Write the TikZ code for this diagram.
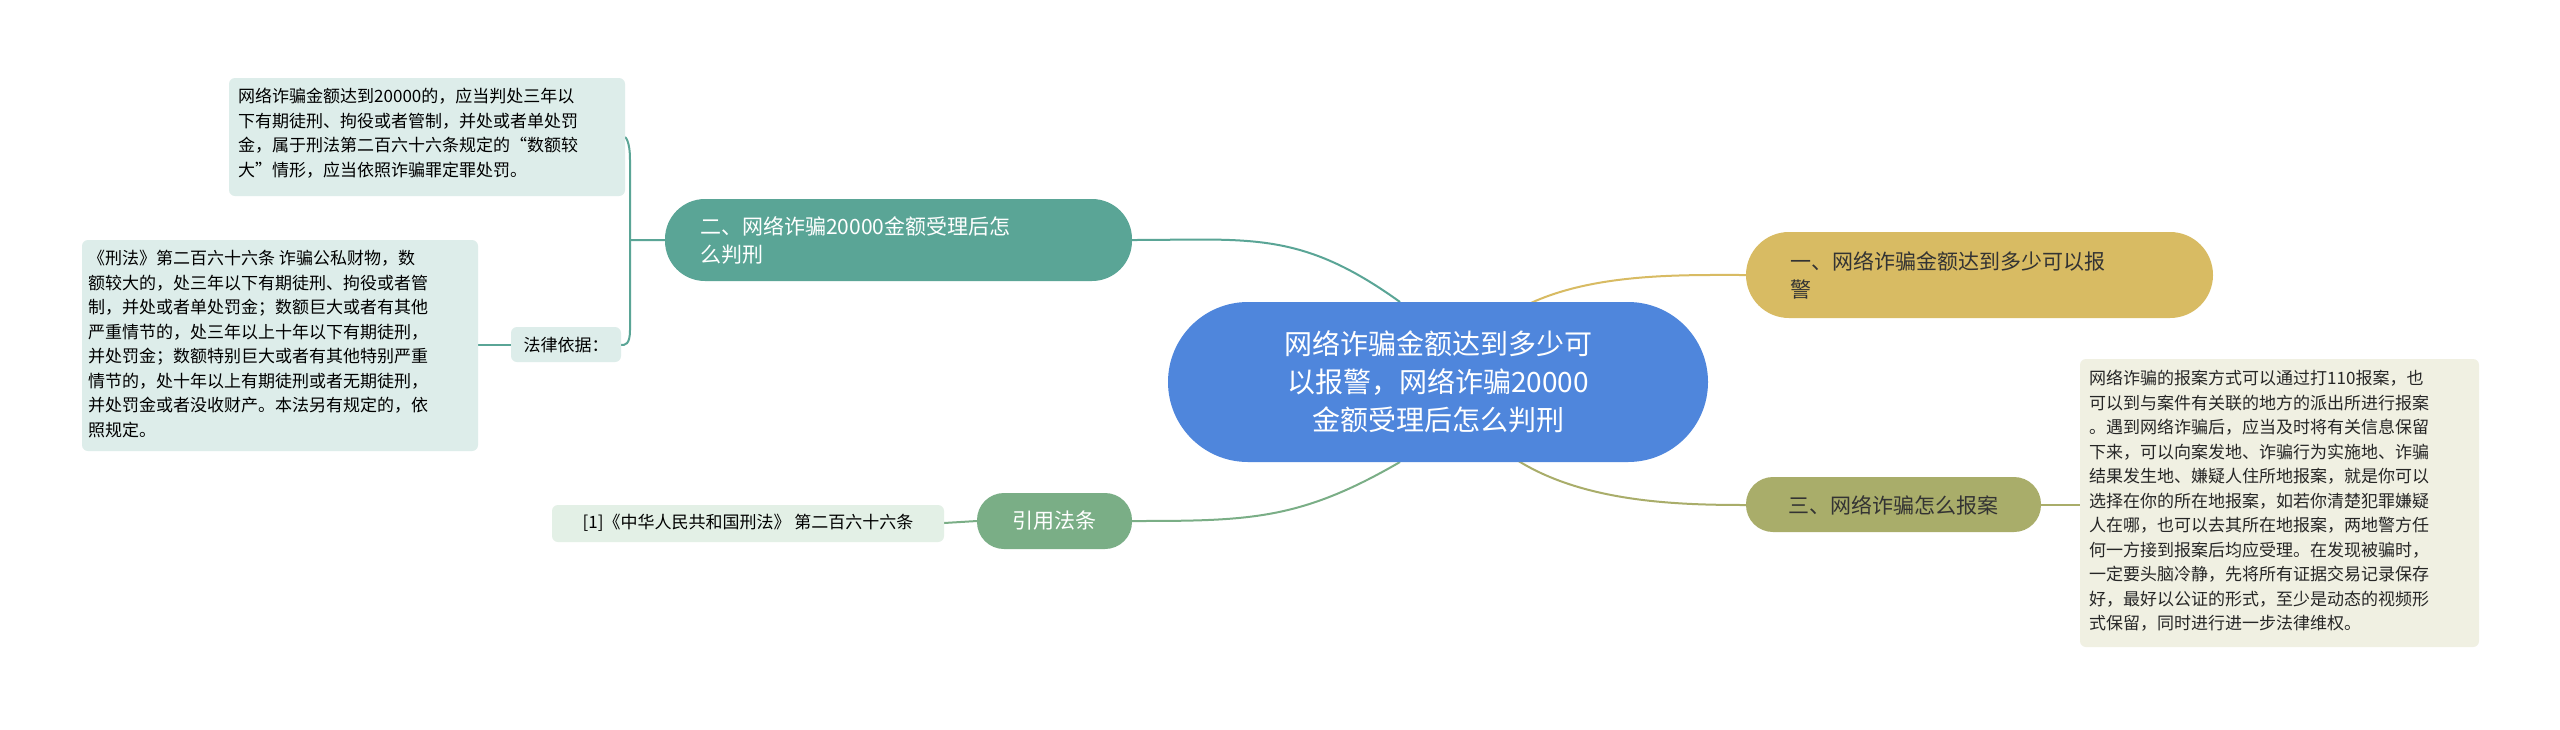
\documentclass[tikz,border=0pt]{standalone}
\usepackage{fontspec}
\setmainfont{Noto Sans CJK SC}
\begin{document}
\begin{tikzpicture}[x=1pt,y=-1pt,
 leaf/.style={rounded corners=6pt,inner sep=0pt,align=left,font=\fontsize{17}{24.5}\selectfont},
 br/.style={rounded corners=26pt,inner sep=0pt,font=\fontsize{21}{28}\selectfont,align=left},
 con/.style={line width=2pt}]
\useasboundingbox (0,0) rectangle (2560,729);
\fill[white] (0,0) rectangle (2560,729);
% center
\node[fill=blue!35!cyan!30!black!0,draw=none] at (0,0) {};
\definecolor{cblue}{HTML}{4F86DC}
\definecolor{teal2}{HTML}{5AA596}
\definecolor{gold}{HTML}{D8BB63}
\definecolor{olive2}{HTML}{A9AD6A}
\definecolor{green2}{HTML}{7AAE86}
\definecolor{lteal}{HTML}{DDEDEA}
\definecolor{lolive}{HTML}{F0F0E2}
\definecolor{lgreen}{HTML}{E3F0E6}
% connectors first
\draw[con,teal2] (1400,302) .. controls (1300,230) and (1250,240) .. (1132,240);
\draw[con,gold] (1450,382) .. controls (1500,270) and (1650,275) .. (1746,275);
\draw[con,olive2] (1450,382) .. controls (1500,500) and (1650,505) .. (1746,505);
\draw[con,green2] (1400,462) .. controls (1300,520) and (1250,521) .. (1132,521);
\draw[con,green2] (977,521) -- (944,523);
\draw[con,teal2] (665,240) .. controls (640,240) and (640,240) .. (630,240) -- (630,160) .. controls (630,140) and (625,137) .. (625,137);
\draw[con,teal2] (630,240) -- (630,330) .. controls (630,345) and (625,345) .. (621,345);
\draw[con,teal2] (511,345) -- (478,345);
\fill[cblue, rounded corners=80pt] (1168,302) rectangle (1708,462);
\node[text=white,align=center,font=\fontsize{28}{38}\selectfont] (c) at (1438,382) {网络诈骗金额达到多少可\\以报警，网络诈骗20000\\金额受理后怎么判刑};
\fill[teal2,rounded corners=40pt] (665,199) rectangle (1132,281);
\node[text=white,br,anchor=west] (b2) at (700,240) {二、网络诈骗20000金额受理后怎\\么判刑};
\fill[gold,rounded corners=43pt] (1746,232) rectangle (2213,318);
\node[text=black!80,br,anchor=west] (b1) at (1790,275) {一、网络诈骗金额达到多少可以报\\警};
\fill[olive2,rounded corners=27pt] (1746,477) rectangle (2041,532);
\node[text=black!80,br] (b3) at (1893,505) {三、网络诈骗怎么报案};
\fill[green2,rounded corners=27pt] (977,493) rectangle (1132,549);
\node[text=white,br] (b4) at (1054,521) {引用法条};
% leaves
\fill[lteal,rounded corners=6pt] (229,78) rectangle (625,196);
\node[leaf,anchor=north west] (la) at (238,88) {网络诈骗金额达到20000的，应当判处三年以\\下有期徒刑、拘役或者管制，并处或者单处罚\\金，属于刑法第二百六十六条规定的“数额较\\大”情形，应当依照诈骗罪定罪处罚。};
\fill[lteal,rounded corners=6pt] (82,240) rectangle (478,451);
\node[leaf,anchor=north west] (lb) at (88,250) {《刑法》第二百六十六条 诈骗公私财物，数\\额较大的，处三年以下有期徒刑、拘役或者管\\制，并处或者单处罚金；数额巨大或者有其他\\严重情节的，处三年以上十年以下有期徒刑，\\并处罚金；数额特别巨大或者有其他特别严重\\情节的，处十年以上有期徒刑或者无期徒刑，\\并处罚金或者没收财产。本法另有规定的，依\\照规定。};
\fill[lteal,rounded corners=6pt] (511,327) rectangle (621,362);
\node[leaf] (ll) at (566,345) {法律依据：};
\fill[lolive,rounded corners=6pt] (2080,359) rectangle (2479,647);
\node[leaf,anchor=north west,text=black!85] (lr) at (2089,370) {网络诈骗的报案方式可以通过打110报案，也\\可以到与案件有关联的地方的派出所进行报案\\。遇到网络诈骗后，应当及时将有关信息保留\\下来，可以向案发地、诈骗行为实施地、诈骗\\结果发生地、嫌疑人住所地报案，就是你可以\\选择在你的所在地报案，如若你清楚犯罪嫌疑\\人在哪，也可以去其所在地报案，两地警方任\\何一方接到报案后均应受理。在发现被骗时，\\一定要头脑冷静，先将所有证据交易记录保存\\好，最好以公证的形式，至少是动态的视频形\\式保留，同时进行进一步法律维权。};
\draw[con,olive2] (2041,505) -- (2080,505);
\fill[lgreen,rounded corners=6pt] (552,505) rectangle (944,542);
\node[leaf] (lc) at (748,523) {[1]《中华人民共和国刑法》 第二百六十六条};
\end{tikzpicture}
\end{document}
